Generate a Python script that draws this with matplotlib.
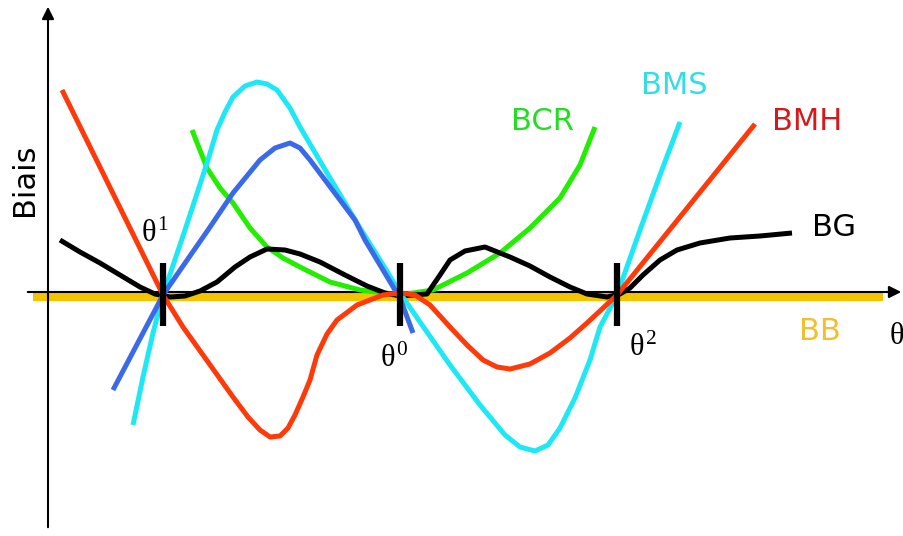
import matplotlib.pyplot as plt

# Schema des biais des estimateurs en fonction de theta (unites arbitraires)
theta_bmh = [62, 163, 183, 208, 233, 248, 260, 270, 280, 288, 295, 303, 310, 317, 327, 337, 357, 383, 400, 415,
             430, 450, 467, 483, 497, 510, 530, 550, 570, 587, 617, 755]
biais_bmh = [205, 0, -32, -67, -102, -122, -135, -142, -141, -133, -120, -102, -85, -60, -39, -25, -10, 0, 2, 0,
             -10, -32, -50, -65, -72, -74, -69, -58, -43, -28, 0, 171]

theta_bms = [133, 143, 153, 163, 185, 208, 217, 225, 233, 245, 257, 267, 277, 290, 300, 330, 360, 385, 400, 420,
             450, 480, 505, 520, 535, 548, 560, 575, 590, 600, 617, 640, 660, 680]
biais_bms = [-130, -82, -38, 0, 65, 135, 165, 183, 198, 209, 213, 211, 205, 187, 168, 117, 67, 27, 2, -27,
             -70, -110, -140, -152, -156, -150, -133, -103, -65, -32, 0, 65, 120, 173]

theta_bleu = [113, 163, 183, 208, 233, 260, 275, 290, 300, 310, 325, 340, 355, 365, 380, 395, 400, 413]
biais_bleu = [-95, 0, 29, 65, 102, 135, 147, 152, 147, 135, 115, 95, 75, 55, 30, 5, -3, -38]

theta_bcr = [192, 207, 220, 233, 250, 267, 283, 300, 330, 360, 400, 433, 467, 500, 530, 560, 580, 595]
biais_bcr = [165, 127, 107, 92, 67, 48, 37, 28, 13, 5, 0, 5, 22, 42, 67, 97, 130, 168]

theta_bg = [60, 80, 100, 120, 140, 155, 170, 185, 200, 217, 235, 250, 267, 285, 300, 320, 345, 367, 385, 400,
            427, 440, 450, 465, 485, 510, 530, 550, 570, 587, 607, 620, 630, 643, 660, 677, 700, 730, 760, 792]
biais_bg = [55, 43, 32, 20, 8, 1, -2, -1, 4, 13, 28, 38, 46, 45, 41, 33, 20, 9, 2, -1,
            1, 20, 35, 44, 48, 38, 29, 18, 8, 1, -2, 1, 7, 20, 35, 45, 52, 57, 59, 62]

theta_bb = [33, 883]
biais_bb = [-2, -2]

theta_points = [163, 400, 617]
theta_noms = [r'$\theta^1$', r'$\theta^0$', r'$\theta^2$']

# theta droit (pas italique)
plt.rcParams['mathtext.fontset'] = 'custom'
plt.rcParams['mathtext.rm'] = 'Liberation Serif'
plt.rcParams['mathtext.it'] = 'Liberation Serif'

fig = plt.figure(figsize=(9.04, 5.36), dpi=100)
ax = fig.add_axes([0, 0, 1, 1])
ax.set_xlim(0, 904)
ax.set_ylim(-241, 295)
ax.axis('off')

# axes avec fleches
ax.annotate('', xy=(904, 3), xytext=(25, 3),
            arrowprops=dict(arrowstyle='-|>', color='black', lw=1.5, mutation_scale=18))
ax.annotate('', xy=(48, 291), xytext=(48, -235),
            arrowprops=dict(arrowstyle='-|>', color='black', lw=1.5, mutation_scale=18))

ax.plot(theta_bb, biais_bb, color='#f5c400', lw=6, solid_capstyle='butt', zorder=2)

kw = dict(lw=3.6, solid_capstyle='butt', solid_joinstyle='round', zorder=3)
ax.plot(theta_bcr, biais_bcr, color='#22ee00', **kw)
ax.plot(theta_bg, biais_bg, color='black', **kw)
ax.plot(theta_bms, biais_bms, color='#1ee8f5', **kw)
ax.plot(theta_bleu, biais_bleu, color='#3a6ae8', **kw)
ax.plot(theta_bmh, biais_bmh, color='#ff3a0a', **kw)

# marques des theta
ax.vlines(theta_points, -31, 32, color='black', lw=4.5, zorder=4)
ax.text(155, 62, theta_noms[0], fontsize=22, ha='center', va='center')
ax.text(394, -63, theta_noms[1], fontsize=22, ha='center', va='center')
ax.text(643, -52, theta_noms[2], fontsize=22, ha='center', va='center')
ax.text(897, -40, r'$\theta$', fontsize=22, ha='center', va='center')

# noms des courbes
ax.text(543, 173, 'BCR', color='#22dd22', fontsize=22, ha='center', va='center')
ax.text(674, 209, 'BMS', color='#33dde6', fontsize=22, ha='center', va='center')
ax.text(807, 174, 'BMH', color='#d41a1a', fontsize=22, ha='center', va='center')
ax.text(834, 68, 'BG', color='black', fontsize=22, ha='center', va='center')
ax.text(820, -36, 'BB', color='#f0c030', fontsize=22, ha='center', va='center')
ax.text(25, 115, 'Biais', color='black', fontsize=22, ha='center', va='center', rotation=90)

fig.savefig('out.png', dpi=100)
